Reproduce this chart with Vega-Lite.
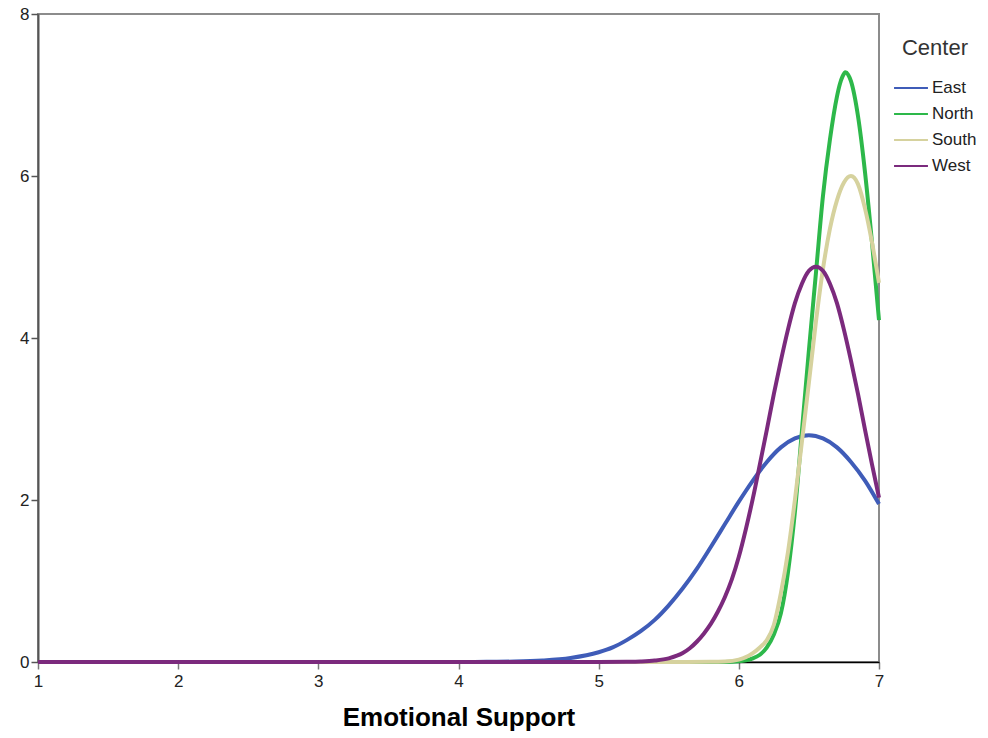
{
  "$schema": "https://vega.github.io/schema/vega-lite/v6.json",
  "width": 841,
  "height": 648,
  "autosize": {"type": "none"},
  "padding": {"left": 38, "top": 14, "right": 109, "bottom": 76},
  "background": "white",
  "config": {
    "font": "Liberation Sans",
    "view": {"stroke": "#8c8c8c", "strokeWidth": 2}
  },
  "data": {
    "values": [
      {"x": 1, "y": 0, "c": "East"}, {"x": 2, "y": 0, "c": "East"}, {"x": 3, "y": 0, "c": "East"}, {"x": 3.5, "y": 0, "c": "East"},
      {"x": 4.0, "y": 0.0005, "c": "East"}, {"x": 4.2, "y": 0.002, "c": "East"}, {"x": 4.4, "y": 0.006, "c": "East"},
      {"x": 4.6, "y": 0.019, "c": "East"}, {"x": 4.8, "y": 0.05, "c": "East"}, {"x": 5.0, "y": 0.12, "c": "East"},
      {"x": 5.1, "y": 0.18, "c": "East"}, {"x": 5.2, "y": 0.27, "c": "East"}, {"x": 5.3, "y": 0.38, "c": "East"},
      {"x": 5.4, "y": 0.52, "c": "East"}, {"x": 5.5, "y": 0.70, "c": "East"}, {"x": 5.6, "y": 0.91, "c": "East"},
      {"x": 5.7, "y": 1.15, "c": "East"}, {"x": 5.8, "y": 1.42, "c": "East"}, {"x": 5.9, "y": 1.70, "c": "East"},
      {"x": 6.0, "y": 1.98, "c": "East"}, {"x": 6.1, "y": 2.24, "c": "East"}, {"x": 6.2, "y": 2.47, "c": "East"},
      {"x": 6.3, "y": 2.65, "c": "East"}, {"x": 6.4, "y": 2.76, "c": "East"}, {"x": 6.5, "y": 2.80, "c": "East"},
      {"x": 6.6, "y": 2.76, "c": "East"}, {"x": 6.7, "y": 2.65, "c": "East"}, {"x": 6.8, "y": 2.47, "c": "East"},
      {"x": 6.9, "y": 2.24, "c": "East"}, {"x": 7.0, "y": 1.95, "c": "East"},

      {"x": 1, "y": 0, "c": "North"}, {"x": 2, "y": 0, "c": "North"}, {"x": 3, "y": 0, "c": "North"}, {"x": 4, "y": 0, "c": "North"},
      {"x": 5, "y": 0, "c": "North"}, {"x": 5.5, "y": 0, "c": "North"}, {"x": 5.8, "y": 0.0003, "c": "North"},
      {"x": 5.9, "y": 0.0015, "c": "North"}, {"x": 6.0, "y": 0.009, "c": "North"}, {"x": 6.05, "y": 0.02, "c": "North"},
      {"x": 6.1, "y": 0.045, "c": "North"}, {"x": 6.15, "y": 0.09, "c": "North"}, {"x": 6.2, "y": 0.18, "c": "North"},
      {"x": 6.25, "y": 0.34, "c": "North"}, {"x": 6.3, "y": 0.6, "c": "North"}, {"x": 6.35, "y": 1.1, "c": "North"},
      {"x": 6.4, "y": 1.85, "c": "North"}, {"x": 6.45, "y": 2.85, "c": "North"}, {"x": 6.5, "y": 3.85, "c": "North"},
      {"x": 6.55, "y": 4.8, "c": "North"}, {"x": 6.6, "y": 5.75, "c": "North"}, {"x": 6.65, "y": 6.45, "c": "North"},
      {"x": 6.7, "y": 6.98, "c": "North"}, {"x": 6.72, "y": 7.13, "c": "North"}, {"x": 6.74, "y": 7.23, "c": "North"},
      {"x": 6.76, "y": 7.28, "c": "North"}, {"x": 6.78, "y": 7.25, "c": "North"}, {"x": 6.8, "y": 7.17, "c": "North"},
      {"x": 6.85, "y": 6.74, "c": "North"}, {"x": 6.9, "y": 6.05, "c": "North"}, {"x": 6.95, "y": 5.18, "c": "North"},
      {"x": 7.0, "y": 4.22, "c": "North"},

      {"x": 1, "y": 0, "c": "South"}, {"x": 2, "y": 0, "c": "South"}, {"x": 3, "y": 0, "c": "South"}, {"x": 4, "y": 0, "c": "South"},
      {"x": 5, "y": 0, "c": "South"}, {"x": 5.5, "y": 0, "c": "South"}, {"x": 5.8, "y": 0.002, "c": "South"},
      {"x": 5.9, "y": 0.006, "c": "South"}, {"x": 6.0, "y": 0.03, "c": "South"}, {"x": 6.05, "y": 0.06, "c": "South"},
      {"x": 6.1, "y": 0.11, "c": "South"}, {"x": 6.15, "y": 0.18, "c": "South"}, {"x": 6.2, "y": 0.27, "c": "South"},
      {"x": 6.25, "y": 0.46, "c": "South"}, {"x": 6.3, "y": 0.85, "c": "South"}, {"x": 6.35, "y": 1.35, "c": "South"},
      {"x": 6.4, "y": 2.0, "c": "South"}, {"x": 6.45, "y": 2.72, "c": "South"}, {"x": 6.5, "y": 3.45, "c": "South"},
      {"x": 6.55, "y": 4.2, "c": "South"}, {"x": 6.6, "y": 4.85, "c": "South"}, {"x": 6.65, "y": 5.35, "c": "South"},
      {"x": 6.7, "y": 5.7, "c": "South"}, {"x": 6.75, "y": 5.92, "c": "South"}, {"x": 6.8, "y": 6.0, "c": "South"},
      {"x": 6.85, "y": 5.9, "c": "South"}, {"x": 6.9, "y": 5.6, "c": "South"}, {"x": 6.95, "y": 5.18, "c": "South"},
      {"x": 7.0, "y": 4.68, "c": "South"},

      {"x": 1, "y": 0, "c": "West"}, {"x": 2, "y": 0, "c": "West"}, {"x": 3, "y": 0, "c": "West"}, {"x": 4, "y": 0, "c": "West"},
      {"x": 4.5, "y": 0, "c": "West"}, {"x": 5.0, "y": 0.0005, "c": "West"}, {"x": 5.2, "y": 0.003, "c": "West"},
      {"x": 5.3, "y": 0.007, "c": "West"}, {"x": 5.4, "y": 0.018, "c": "West"}, {"x": 5.5, "y": 0.045, "c": "West"},
      {"x": 5.6, "y": 0.11, "c": "West"}, {"x": 5.65, "y": 0.17, "c": "West"}, {"x": 5.7, "y": 0.25, "c": "West"},
      {"x": 5.75, "y": 0.35, "c": "West"}, {"x": 5.8, "y": 0.47, "c": "West"}, {"x": 5.85, "y": 0.62, "c": "West"},
      {"x": 5.9, "y": 0.8, "c": "West"}, {"x": 5.95, "y": 1.02, "c": "West"}, {"x": 6.0, "y": 1.3, "c": "West"},
      {"x": 6.05, "y": 1.64, "c": "West"}, {"x": 6.1, "y": 2.02, "c": "West"}, {"x": 6.15, "y": 2.44, "c": "West"},
      {"x": 6.2, "y": 2.87, "c": "West"}, {"x": 6.25, "y": 3.31, "c": "West"}, {"x": 6.3, "y": 3.72, "c": "West"},
      {"x": 6.35, "y": 4.1, "c": "West"}, {"x": 6.4, "y": 4.43, "c": "West"}, {"x": 6.45, "y": 4.67, "c": "West"},
      {"x": 6.5, "y": 4.83, "c": "West"}, {"x": 6.55, "y": 4.88, "c": "West"}, {"x": 6.6, "y": 4.83, "c": "West"},
      {"x": 6.65, "y": 4.67, "c": "West"}, {"x": 6.7, "y": 4.43, "c": "West"}, {"x": 6.75, "y": 4.1, "c": "West"},
      {"x": 6.8, "y": 3.72, "c": "West"}, {"x": 6.85, "y": 3.31, "c": "West"}, {"x": 6.9, "y": 2.87, "c": "West"},
      {"x": 6.95, "y": 2.44, "c": "West"}, {"x": 7.0, "y": 2.03, "c": "West"}
    ]
  },
  "mark": {"type": "line", "interpolate": "monotone", "strokeWidth": 4},
  "encoding": {
    "x": {
      "field": "x", "type": "quantitative",
      "scale": {"domain": [1, 7], "nice": false, "zero": false},
      "axis": {
        "values": [1, 2, 3, 4, 5, 6, 7], "format": "d", "grid": false, "labelFlush": false,
        "title": "Emotional Support",
        "tickSize": 7, "tickColor": "#7a7a7a", "tickWidth": 1.5,
        "domainColor": "#000000", "domainWidth": 1.5,
        "labelFontSize": 17, "labelColor": "#222222", "labelPadding": 4,
        "titleFontSize": 26, "titleFontWeight": "bold", "titleColor": "#000000", "titlePadding": 15
      }
    },
    "y": {
      "field": "y", "type": "quantitative",
      "scale": {"domain": [0, 8], "nice": false, "zero": true},
      "axis": {
        "values": [0, 2, 4, 6, 8], "format": "d", "grid": false, "title": null, "labelFlush": false,
        "tickSize": 7, "tickColor": "#555555", "tickWidth": 1.5,
        "domainColor": "#555555", "domainWidth": 2,
        "labelFontSize": 17, "labelColor": "#222222", "labelPadding": 2
      }
    },
    "color": {
      "field": "c", "type": "nominal",
      "scale": {"domain": ["East", "North", "South", "West"], "range": ["#3f5cb8", "#2db84a", "#d6d29e", "#7b2a7d"]},
      "legend": {
        "title": "Center", "orient": "none", "legendX": 855, "legendY": 24,
        "titleFontSize": 22, "titleFontWeight": "normal", "titleColor": "#333333", "titleAnchor": "middle", "titlePadding": 10,
        "symbolType": "stroke", "symbolSize": 1150, "symbolStrokeWidth": 2,
        "labelFontSize": 17, "labelColor": "#222222", "labelOffset": 3, "rowPadding": -8
      }
    }
  }
}
